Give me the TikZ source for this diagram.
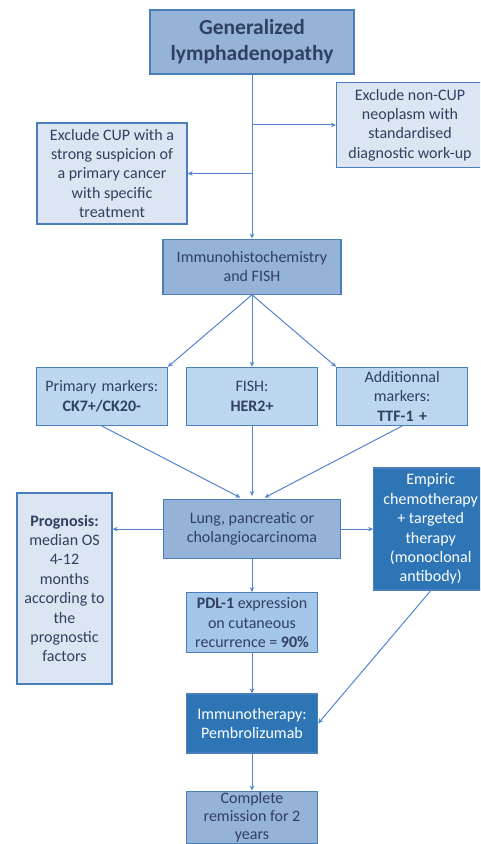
\documentclass[tikz,border=0pt]{standalone}
\usepackage{fontspec}
\setmainfont{Carlito}
\usetikzlibrary{positioning, arrows.meta}
\definecolor{bdark}{RGB}{46,117,182}
\definecolor{bmid}{RGB}{149,179,215}
\definecolor{blite}{RGB}{189,215,238}
\definecolor{bpdl}{RGB}{164,198,232}
\definecolor{bpale}{RGB}{220,230,242}
\definecolor{bline}{RGB}{74,126,187}
\definecolor{barrow}{RGB}{84,132,208}
\definecolor{btext}{RGB}{48,64,98}

\begin{document}
\begin{tikzpicture}[
     node distance = 18pt and 18pt,
        >={Stealth[length=5pt,width=4.5pt]},
        box/.style = {rectangle, draw=bline, line width=1.2pt, align=center, inner sep=2pt,
                      text=btext, font=\fontsize{16}{19.4}\selectfont},
        pbox/.style = {box, fill=bpale},
        lbox/.style = {box, fill=blite, text width=127pt, minimum height=58pt},
        mbox/.style = {box, fill=bmid},
        dbox/.style = {box, fill=bdark, text=white},
        conn/.style = {draw=barrow, line width=1pt, ->}
                        ]
\clip (0,0) rectangle (480pt,844pt);
\fill[white] (0,0) rectangle (480pt,844pt);
\node (top)  [mbox, minimum width=204pt, minimum height=64pt,
              font=\fontsize{21.5}{26}\bfseries] at (252pt,802pt) {Generalized\\lymphadenopathy};
\node (excr) [pbox, minimum width=147pt, minimum height=85pt] at (410pt,719pt)
             {Exclude non-CUP\\neoplasm with\\standardised\\diagnostic work-up};
\node (excl) [pbox, minimum width=150pt, minimum height=101pt] at (112pt,670.5pt)
             {Exclude CUP with a\\strong suspicion of\\a primary cancer\\with specific\\treatment};
\node (ihc)  [mbox, minimum width=178pt, minimum height=55pt, below=164pt of top]
             {Immunohistochemistry\\and FISH};
\node (fish) [lbox, below=72pt of ihc] {FISH:\\\textbf{HER2+}};
\node (prim) [lbox, left=of fish] {Primary markers:\\\textbf{CK7+/CK20-}};
\node (addm) [lbox, right=of fish] {Additionnal\\markers:\\\textbf{TTF-1 +}};
\node (lung) [mbox, minimum width=177pt, minimum height=59pt, below=73pt of fish]
             {Lung, pancreatic or\\cholangiocarcinoma};
\node (prog) [pbox, minimum width=95pt, minimum height=191pt] at (64.5pt,255.5pt)
             {\textbf{Prognosis:}\\median OS\\4-12\\months\\according to\\the\\prognostic\\factors};
\node (emp)  [dbox, minimum width=114pt, minimum height=122pt, right=32pt of lung]
             {Empiric\\chemotherapy\\+ targeted\\therapy\\(monoclonal\\antibody)};
\node (pdl)  [box, fill=bpdl, minimum width=131pt, minimum height=60pt, below=33pt of lung]
             {\textbf{PDL-1} expression\\on cutaneous\\recurrence = \textbf{90\%}};
\node (imt)  [dbox, minimum width=131pt, minimum height=59pt, below=40pt of pdl]
             {Immunotherapy:\\Pembrolizumab};
\node (compl)[mbox, minimum width=131pt, minimum height=52pt, below=37pt of imt,
              inner ysep=1pt, font=\fontsize{16}{17.6}\selectfont]
             {Complete\\remission for 2\\years};
% connectors
\draw[conn] (top) -- (ihc);
\draw[conn] (top.south |- excr.west) -- (excr.west);
\draw[conn] (top.south |- excl.east) -- (excl.east);
\draw[conn] (ihc.south) -- (prim.north east);
\draw[conn] (ihc.south) -- (fish);
\draw[conn] (ihc.south) -- (addm.north west);
\draw[conn, shorten >=3pt] (prim.south) -- ([xshift=-9pt]lung.north);
\draw[conn, shorten >=3pt] (fish.south) -- (lung.north);
\draw[conn, shorten >=3pt] (addm.south) -- ([xshift=10pt]lung.north);
\draw[conn] (lung.west) -- (lung.west -| prog.east);
\draw[conn] (lung) -- (emp);
\draw[conn] (lung) -- (pdl);
\draw[conn] (pdl) -- (imt);
\draw[conn] (emp.south) -- (imt.east);
\draw[conn] (imt) -- (compl);
\end{tikzpicture}
\end{document}
